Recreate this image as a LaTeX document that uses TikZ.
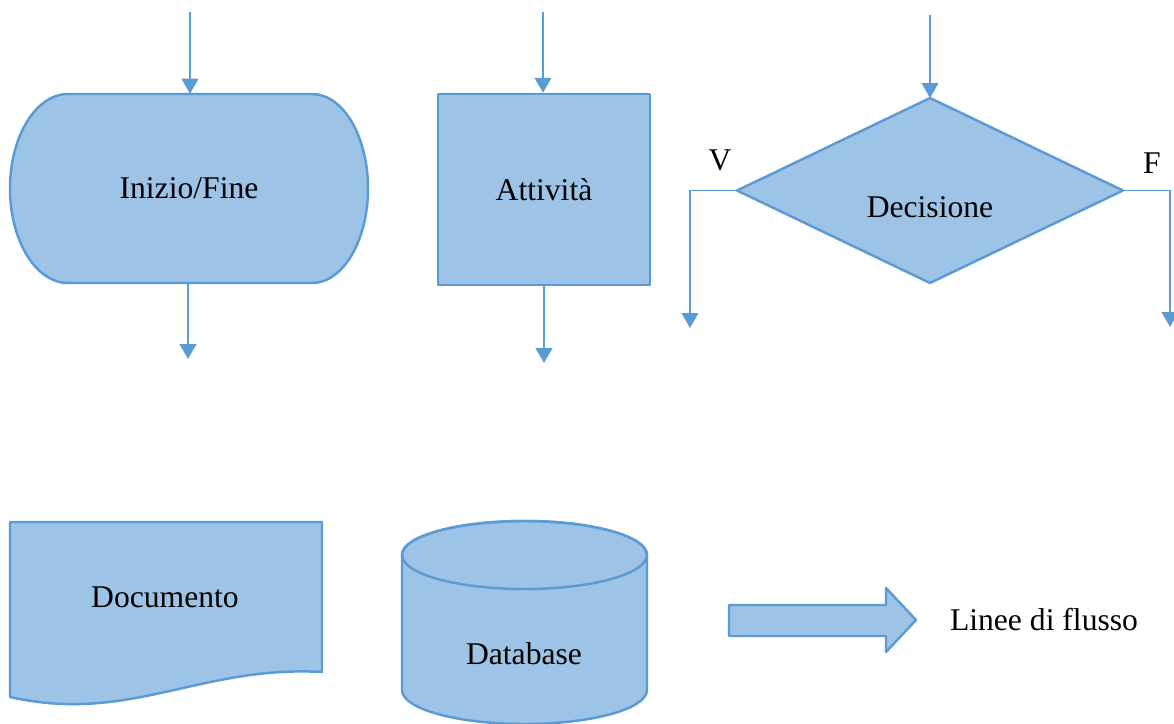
\documentclass[tikz,border=0pt]{standalone}
\usepackage{fontspec}
\setmainfont{Liberation Serif}
\usetikzlibrary{arrows.meta,shapes.geometric}
\definecolor{fillc}{HTML}{9DC3E6}
\definecolor{linec}{HTML}{5B9BD5}
\tikzset{
  shapebox/.style={fill=fillc, draw=linec, line width=1.4pt, line join=round},
  flow/.style={draw=linec, line width=0.8pt, -{Triangle[length=8.5pt,width=9.5pt]}},
  label/.style={inner sep=0pt, font=\fontsize{18}{22}\selectfont},
}
\begin{document}
\begin{tikzpicture}[x=0.02cm, y=0.02cm]
\useasboundingbox (0,0) rectangle (1174,-724);

% --- Terminal (start/end) ---
\path[shapebox] (68,-94) -- (312,-94)
  arc[start angle=90, end angle=-90, x radius=56, y radius=94.5]
  -- (68,-283)
  arc[start angle=270, end angle=90, x radius=58, y radius=94.5] -- cycle;
\node[label, minimum width=7.16cm, minimum height=3.78cm] (term) at (189,-188.5) {Inizio/Fine};
\coordinate (term-in) at (190,-12);
\coordinate (term-out) at (188,-359);
\draw[flow] (term-in) -- (term-in |- term.north);
\draw[flow] (term-out |- term.south) -- (term-out);

% --- Process box ---
\node[shapebox, rectangle, minimum width=4.24cm, minimum height=3.82cm, inner sep=0pt,
      font=\fontsize{18}{22}\selectfont] (act) at (544,-189.5) {Attività};
\coordinate (act-in) at (543,-12);
\coordinate (act-out) at (544,-363);
\draw[flow] (act-in) -- (act-in |- act.north);
\draw[flow] (act-out |- act.south) -- (act-out);

% --- Decision ---
\node[shapebox, diamond, minimum width=7.72cm, minimum height=3.7cm, inner sep=0pt,
      outer sep=0pt] (dec) at (930,-190.5) {};
\node[label] (dec-text) at (930,-207) {Decisione};
\coordinate (dec-in) at (930,-15);
\coordinate (v-end) at (690,-328);
\coordinate (f-end) at (1170,-327);
\draw[flow] (dec-in) -- (dec.north);
\draw[flow] (dec.west) -| (v-end);
\draw[flow] (dec.east) -| (f-end);
\node[label] (v-lab) at (720,-160) {V};
\node[label] (f-lab) at (1152,-163) {F};

% --- Document ---
\path[shapebox] (10,-522) -- (322,-522) -- (322,-672)
  .. controls (200,-665) and (130,-724) .. (10,-697) -- cycle;
\node[label] (doc) at (165,-597) {Documento};

% --- Database ---
\path[shapebox] (402,-555) -- (402,-690)
  arc[start angle=180, end angle=360, x radius=122.5, y radius=34]
  -- (647,-555)
  arc[start angle=0, end angle=180, x radius=122.5, y radius=34] -- cycle;
\draw[shapebox, fill=none] (524.5,-555) ellipse[x radius=122.5, y radius=34];
\node[label] (db) at (524,-654) {Database};

% --- Flow line symbol ---
\path[shapebox] (729,-605) -- (886,-605) -- (886,-588) -- (916,-620)
  -- (886,-652) -- (886,-636) -- (729,-636) -- cycle;
\node[label] (flow-lab) at (1044,-620) {Linee di flusso};
\end{tikzpicture}
\end{document}
